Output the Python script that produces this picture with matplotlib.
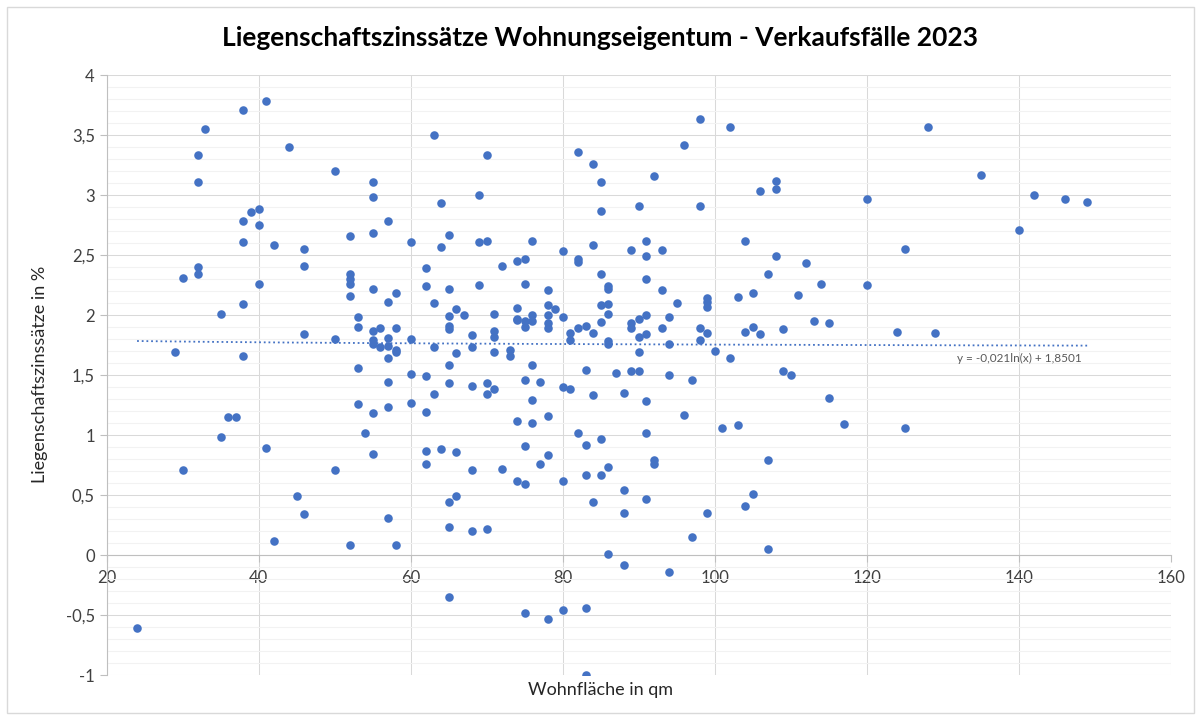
import matplotlib
matplotlib.use("Agg")
import matplotlib.pyplot as plt
import numpy as np
from matplotlib.ticker import MultipleLocator, FuncFormatter
from matplotlib.patches import Rectangle

# Wohnfläche (qm) und Liegenschaftszinssatz (%) je Verkaufsfall
wohnflaeche = [
    41, 38, 33, 44, 32, 50, 32, 55, 55, 40, 39, 38, 40, 52, 55, 38, 42, 46, 32, 32,
    30, 40, 46, 52, 52, 52, 52, 55, 38, 35, 53, 53, 55, 46, 50, 55, 55, 29, 38, 53,
    63, 70, 82, 84, 85, 57, 69, 64, 85, 90, 60, 65, 64, 69, 70, 76, 80, 84, 89, 62,
    72, 74, 75, 82, 82, 57, 58, 62, 65, 69, 75, 78, 85, 86, 86, 63, 65, 65, 65, 66,
    67, 74, 74, 74, 75, 75, 76, 76, 78, 78, 78, 78, 79, 80, 71, 71, 71, 71, 68, 68,
    66, 63, 60, 56, 56, 57, 57, 57, 58, 58, 58, 73, 73, 81, 81, 82, 83, 84, 85, 85,
    86, 86, 86, 86, 89, 89, 90, 90, 90, 76, 65, 60, 62, 83, 87, 89, 90,
    98, 102, 96, 92, 108, 108, 106, 120, 98, 91, 93, 91, 104, 108, 112, 107, 114, 120, 91, 93,
    95, 99, 99, 99, 103, 105, 111, 91, 91, 93, 94, 94, 98, 98, 99, 100, 102, 104, 105, 106,
    109, 113, 115, 124, 94, 109, 110,
    128, 135, 142, 146, 149, 140, 125, 129,
    53, 55, 54, 55, 36, 37, 35, 41, 30, 50, 45, 46, 42, 52, 24,
    57, 65, 68, 70, 70, 71, 63, 57, 60, 62, 75, 77, 76, 74, 76, 78, 80, 81, 84, 88,
    82, 83, 85, 62, 64, 66, 62, 68, 72, 75, 77, 78, 74, 75, 80, 83, 85, 86, 88, 84,
    88, 57, 65, 66, 58, 65, 68, 70, 86, 88, 65, 75, 78, 80, 83, 83,
    97, 91, 96, 91, 101, 103, 115, 117, 125, 92, 92, 107, 91, 105, 104, 99, 97, 107, 94,
]
zinssatz = [
    3.78, 3.71, 3.55, 3.40, 3.33, 3.20, 3.11, 3.11, 2.98, 2.88, 2.86, 2.78, 2.75, 2.66, 2.68, 2.61, 2.58, 2.55, 2.40, 2.34,
    2.31, 2.26, 2.41, 2.34, 2.30, 2.26, 2.16, 2.22, 2.09, 2.01, 1.98, 1.90, 1.87, 1.84, 1.80, 1.79, 1.76, 1.69, 1.66, 1.56,
    3.50, 3.33, 3.36, 3.26, 3.11, 2.78, 3.00, 2.93, 2.87, 2.91, 2.61, 2.67, 2.57, 2.61, 2.62, 2.62, 2.53, 2.58, 2.54, 2.39,
    2.41, 2.45, 2.47, 2.47, 2.44, 2.11, 2.18, 2.24, 2.22, 2.25, 2.26, 2.21, 2.34, 2.24, 2.22, 2.10, 1.99, 1.91, 1.88, 2.05,
    2.00, 2.06, 1.97, 1.96, 1.95, 1.90, 2.00, 1.95, 2.08, 2.00, 1.93, 1.89, 2.05, 1.98, 2.01, 1.87, 1.82, 1.69, 1.83, 1.73,
    1.68, 1.73, 1.80, 1.89, 1.73, 1.81, 1.74, 1.64, 1.89, 1.71, 1.69, 1.71, 1.66, 1.85, 1.79, 1.89, 1.91, 1.85, 1.94, 2.08,
    2.09, 2.01, 1.78, 1.76, 1.93, 1.89, 1.97, 1.82, 1.69, 1.58, 1.58, 1.51, 1.49, 1.54, 1.52, 1.53, 1.53,
    3.63, 3.57, 3.42, 3.16, 3.12, 3.05, 3.03, 2.97, 2.91, 2.62, 2.54, 2.49, 2.62, 2.49, 2.43, 2.34, 2.26, 2.25, 2.30, 2.21,
    2.10, 2.14, 2.11, 2.07, 2.15, 2.18, 2.17, 2.00, 1.84, 1.89, 1.98, 1.76, 1.89, 1.79, 1.85, 1.70, 1.64, 1.86, 1.90, 1.84,
    1.88, 1.95, 1.93, 1.86, 1.50, 1.53, 1.50,
    3.57, 3.17, 3.00, 2.97, 2.94, 2.71, 2.55, 1.85,
    1.26, 1.18, 1.02, 0.84, 1.15, 1.15, 0.98, 0.89, 0.71, 0.71, 0.49, 0.34, 0.12, 0.08, -0.61,
    1.44, 1.43, 1.41, 1.43, 1.34, 1.38, 1.34, 1.23, 1.27, 1.19, 1.46, 1.44, 1.29, 1.12, 1.10, 1.16, 1.40, 1.38, 1.33, 1.35,
    1.02, 0.92, 0.97, 0.87, 0.88, 0.86, 0.76, 0.71, 0.72, 0.91, 0.76, 0.83, 0.62, 0.59, 0.62, 0.67, 0.67, 0.73, 0.54, 0.44,
    0.35, 0.31, 0.44, 0.49, 0.08, 0.23, 0.20, 0.22, 0.01, -0.08, -0.35, -0.48, -0.53, -0.46, -0.44, -1.00,
    1.46, 1.28, 1.17, 1.02, 1.06, 1.08, 1.31, 1.09, 1.06, 0.79, 0.76, 0.79, 0.47, 0.51, 0.41, 0.35, 0.15, 0.05, -0.14,
]

# logarithmische Trendlinie laut Diagramm
trend_a = -0.021
trend_b = 1.8501
trend_label = "y = -0,021ln(x) + 1,8501"

blue = '#4472C4'
plt.rcParams['font.family'] = ['Lato', 'DejaVu Sans']

fig = plt.figure(figsize=(12.01, 7.2), dpi=100)
ax = fig.add_axes([0.0888, 0.0625, 0.8862, 0.8333])

ax.scatter(wohnflaeche, zinssatz, s=38, color=blue, zorder=3, linewidths=0)

# Trendlinie
tx = np.linspace(min(wohnflaeche), max(wohnflaeche), 200)
ax.plot(tx, trend_a * np.log(tx) + trend_b, color=blue, linewidth=1.3,
        linestyle=(0, (1, 1.6)), zorder=2)
ax.text(140, 1.64, trend_label, ha='center', va='center', fontsize=8.5, color='#595959')

ax.set_xlim(20, 160)
ax.set_ylim(-1, 4)
ax.xaxis.set_major_locator(MultipleLocator(20))
ax.yaxis.set_major_locator(MultipleLocator(0.5))
ax.yaxis.set_minor_locator(MultipleLocator(0.1))
ax.yaxis.set_major_formatter(FuncFormatter(lambda v, p: f'{v:g}'.replace('.', ',')))

ax.grid(True, which='major', color='#d9d9d9', linewidth=0.75, zorder=0)
ax.grid(True, which='minor', axis='y', color='#f2f2f2', linewidth=0.75, zorder=0)
ax.set_axisbelow(True)

for s in ['top', 'right']:
    ax.spines[s].set_visible(False)
ax.spines['bottom'].set_position(('data', 0))
ax.spines['bottom'].set_color('#bfbfbf')
ax.spines['left'].set_color('#bfbfbf')
ax.tick_params(which='major', length=5, color='#bfbfbf', labelsize=12, labelcolor='#404040')
ax.tick_params(which='minor', length=0)
ax.tick_params(axis='x', pad=6)

fig.text(0.5, 0.947, 'Liegenschaftszinssätze Wohnungseigentum - Verkaufsfälle 2023',
         ha='center', va='center', fontsize=19, fontweight='bold', color='black')
fig.text(0.5, 0.042, 'Wohnfläche in qm', ha='center', va='center', fontsize=13, color='#262626')
fig.text(0.033, 0.48, 'Liegenschaftszinssätze in %', ha='center', va='center',
         rotation=90, fontsize=13, color='#262626')

fig.patches.append(Rectangle((0.006, 0.01), 0.988, 0.98, transform=fig.transFigure,
                             fill=False, edgecolor='#d9d9d9', linewidth=1))

plt.savefig('out.png', dpi=100)
plt.close()
